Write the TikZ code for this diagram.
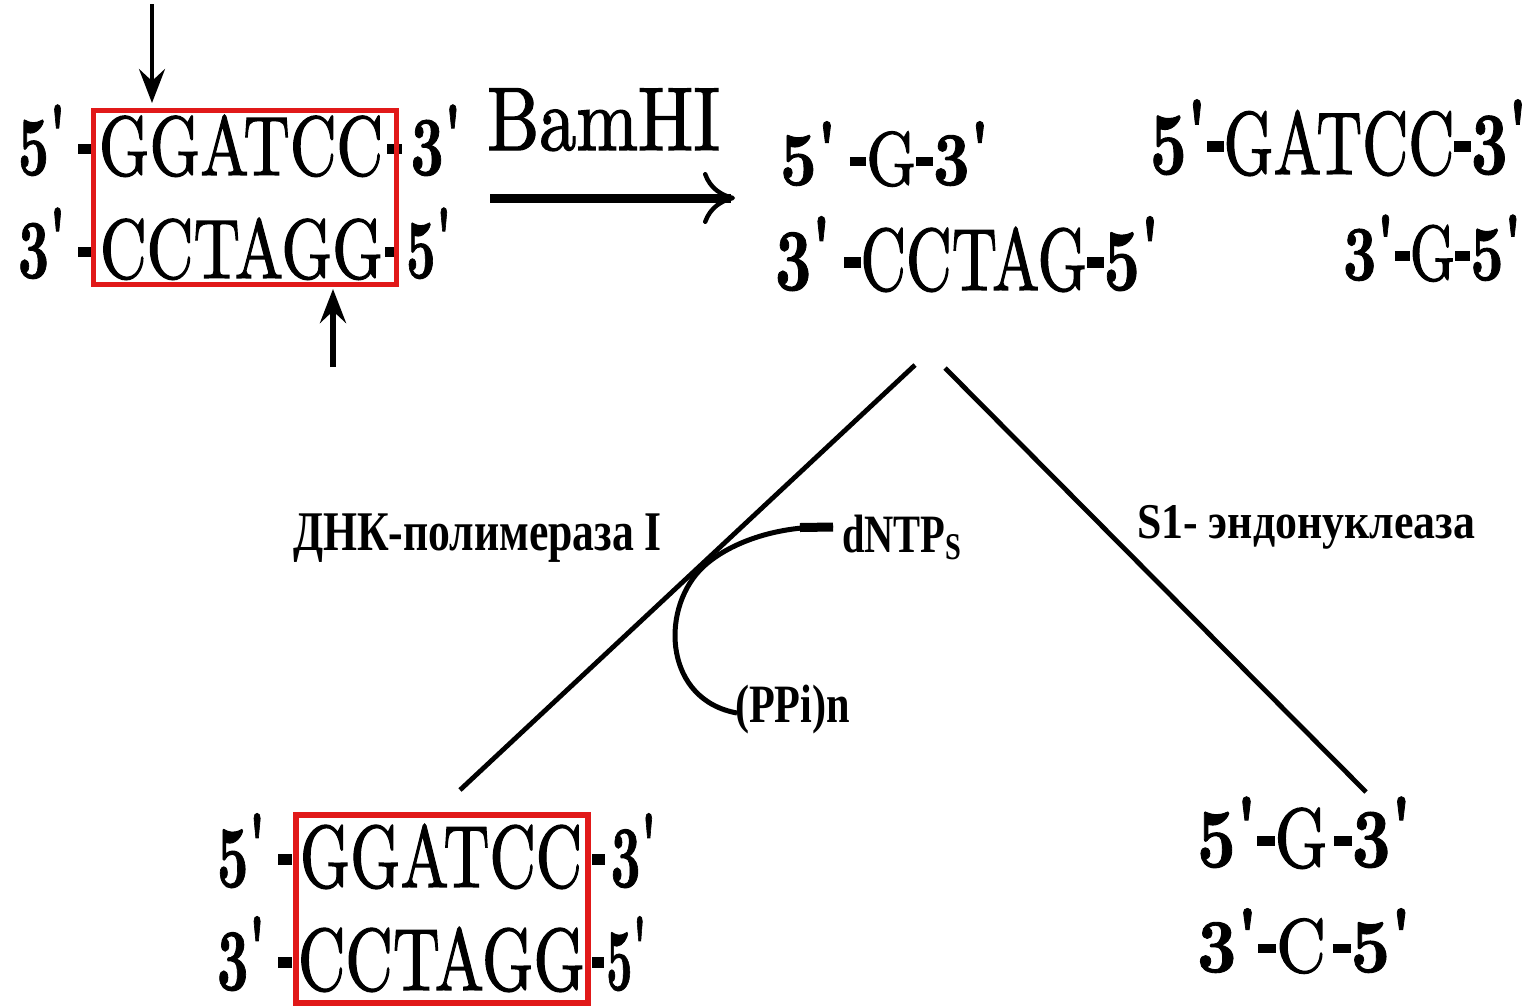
\documentclass[tikz,border=0pt]{standalone}
\usepackage{fontspec}
\usepackage{graphicx}
\newfontfamily\labfont{Liberation Serif}
\newfontfamily\dnafont{lmroman10-regular.otf}[FakeBold=1.6]
\newfontfamily\numfont{lmroman10-bold.otf}[FakeBold=1.2]
\usetikzlibrary{arrows.meta}
\definecolor{boxred}{RGB}{225,25,25}
\newcommand\dnadash{\rule[0.25em]{0.26em}{0.12em}}
\newcommand\dnapr{{\numfont\raisebox{0.14em}{\textquotesingle}}}
\newcommand\dnum[1]{{\numfont #1}}
\newcommand\fitw[2]{\resizebox{#1}{\height}{#2}}
\begin{document}
\begin{tikzpicture}[x=0.5pt,y=-0.5pt,
  dna/.style={inner sep=0pt, outer sep=0pt, anchor=base west, font=\dnafont\fontsize{#1}{#1}\selectfont},
  lab/.style={inner sep=0pt, outer sep=0pt, anchor=base west, font=\labfont\bfseries\fontsize{#1}{#1}\selectfont},
  redbox/.style={draw=boxred, line width=2.7pt},
  branch/.style={line width=2.4pt},
  cutarrow/.style={line width=2.2pt, -{Stealth[length=17pt,width=13pt,inset=6pt]}},
  bigarrow/.style={line width=4.5pt, -{Computer Modern Rightarrow[length=16pt,width=26pt,line width=2.2pt]}}
]
\fill[white] (0,0) rectangle (1540,1007);
\path[use as bounding box] (0,0) rectangle (1540,1007);

% ---- top-left: recognition site ----
\node[dna=42, anchor=base east] (tl1a) at (92,175) {\fitw{37pt}{\dnum{5}\dnapr\hspace{0.22em}\dnadash}};
\node[dna=42] (tl1b) at (99,175) {\fitw{142pt}{GGATCC}};
\node[dna=42] (tl1c) at (387,175) {\fitw{37.5pt}{\dnadash\hspace{0.15em}\dnum{3}\dnapr}};
\node[dna=42, anchor=base east] (tl2a) at (92,278) {\fitw{37pt}{\dnum{3}\dnapr\hspace{0.22em}\dnadash}};
\node[dna=42] (tl2b) at (100,278) {\fitw{141.5pt}{CCTAGG}};
\node[dna=42] (tl2c) at (385,278) {\fitw{33.5pt}{\dnadash\hspace{0.15em}\dnum{5}\dnapr}};
\coordinate (tlboxA) at (93.5,110.5);
\coordinate (tlboxB) at (396.5,284.5);
\draw[redbox] (tlboxA) rectangle (tlboxB);

\coordinate (downstart) at (152,4);
\coordinate (downtip) at (152,103);
\draw[cutarrow] (downstart) -- (downtip);
\coordinate (upstart) at (333,367);
\coordinate (uptip) at (333,289);
\draw[cutarrow, line width=2.8pt] (upstart) -- (uptip);

% ---- BamHI ----
\node[dna=45] (bam) at (487,150) {\fitw{116.5pt}{BamHI}};
\coordinate (bamstart) at (490,198);
\coordinate (bamend) at (735,198);
\draw[bigarrow] (bamstart) -- (bamend);

% ---- products ----
\node[dna=38] (m1) at (780,185) {\fitw{105pt}{\dnum{5}\dnapr\hspace{0.2em}\dnadash G\dnadash\dnum{3}\dnapr}};
\node[dna=44] (m2) at (775,290) {\fitw{192.5pt}{\dnum{3}\dnapr\hspace{0.2em}\dnadash CCTAG\dnadash\dnum{5}\dnapr}};
\node[dna=44.5] (r1) at (1150,174) {\fitw{189pt}{\dnum{5}\dnapr\dnadash GATCC\dnadash\dnum{3}\dnapr}};
\node[dna=39] (r2) at (1343,280) {\fitw{89.5pt}{\dnum{3}\dnapr\dnadash G\dnadash\dnum{5}\dnapr}};

% ---- branches ----
\coordinate (ltop) at (915,365);
\coordinate (lbot) at (460,790);
\coordinate (rtop) at (945,368);
\coordinate (rbot) at (1366,792);
\draw[branch] (ltop) -- (lbot);
\draw[branch] (rtop) -- (rbot);

\node[lab=28] (pol) at (293,550) {\fitw{184.5pt}{ДНК-полимераза I}};
\node[lab=25] (s1) at (1137,538) {\fitw{169pt}{S1- эндонуклеаза}};
\node[lab=27] (dntp) at (842,552) {\fitw{60pt}{dNTP\textsubscript{S}}};
\node[lab=27] (ppi) at (735,722) {\fitw{57.5pt}{(PPi)n}};

\coordinate (cstart) at (833,527);
\coordinate (ctouch) at (700,570);
\coordinate (cend) at (737,713);
\draw[line width=2.5pt] (cstart) .. controls (770,525) and (722,547) .. (ctouch)
   .. controls (660,612) and (665,700) .. (cend);
\draw[line width=4.5pt] (800,527.5) -- (cstart);

% ---- bottom results ----
\node[dna=44, anchor=base east] (ll1a) at (292,887) {\fitw{37.5pt}{\dnum{5}\dnapr\hspace{0.22em}\dnadash}};
\node[dna=44] (ll1b) at (300,887) {\fitw{141pt}{GGATCC}};
\node[dna=44] (ll1c) at (592,887) {\fitw{32.5pt}{\dnadash\hspace{0.1em}\dnum{3}\dnapr}};
\node[dna=44, anchor=base east] (ll2a) at (292,990) {\fitw{37.5pt}{\dnum{3}\dnapr\hspace{0.22em}\dnadash}};
\node[dna=44] (ll2b) at (298,990) {\fitw{143.5pt}{CCTAGG}};
\node[dna=44] (ll2c) at (592,990) {\fitw{27.5pt}{\dnadash\hspace{0.05em}\dnum{5}\dnapr}};
\coordinate (llboxA) at (296,815);
\coordinate (llboxB) at (588,1003);
\draw[redbox] (llboxA) rectangle (llboxB);

\node[dna=42] (lr1) at (1197,867) {\fitw{107.5pt}{\dnum{5}\dnapr\dnadash G\hspace{0.1em}\dnadash\dnum{3}\dnapr}};
\node[dna=38] (lr2) at (1197,972) {\fitw{107.5pt}{\dnum{3}\dnapr\dnadash C\hspace{0.1em}\dnadash\dnum{5}\dnapr}};
\end{tikzpicture}
\end{document}
